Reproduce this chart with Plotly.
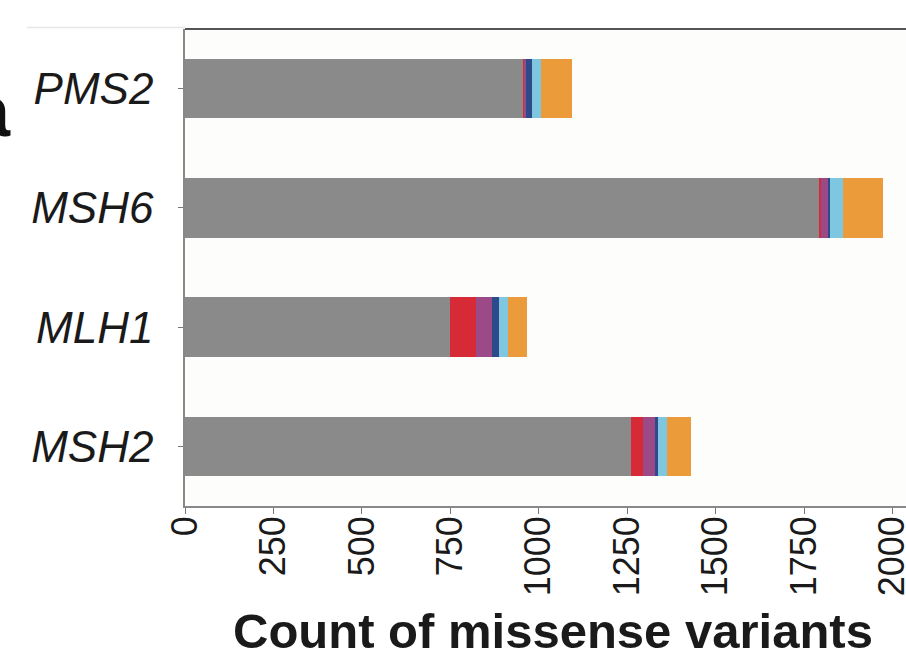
import plotly.graph_objects as go

genes = ["MSH2", "MLH1", "MSH6", "PMS2"]
series_names = ["Class A", "Class B", "Class C", "Class D", "Class E", "Class F"]
gray_vals = [1261, 749, 1791, 954]
red_vals = [34, 73, 8, 6]
purple_vals = [33, 47, 21, 5]
darkblue_vals = [10, 19, 4, 17]
lightblue_vals = [24, 24, 37, 23]
orange_vals = [68, 54, 113, 90]
tick_vals = [0, 250, 500, 750, 1000, 1250, 1500, 1750, 2000]
tick_text = [str(v) for v in tick_vals]

colors = ["#8a8a8a", "#d62a36", "#9b4a87", "#2d4a8a", "#7fc6e0", "#ec9b3b"]
all_vals = [gray_vals, red_vals, purple_vals, darkblue_vals, lightblue_vals, orange_vals]

fig = go.Figure()
for name, vals, col in zip(series_names, all_vals, colors):
    fig.add_trace(go.Bar(
        y=genes, x=vals, name=name, orientation="h",
        marker=dict(color=col, line=dict(width=0)),
        width=0.5, showlegend=False,
    ))

W, H = 906, 653
ml, mr, mt, mb = 185, 0, 29, 653 - 506
pw = W - ml - mr
ph = H - mt - mb


def px_x(page_x):
    return (page_x - ml) / pw


def px_y(page_y):
    return (mt + ph - page_y) / ph


FONT = "Liberation Sans, Arial, sans-serif"

fig.update_layout(
    width=W, height=H, autosize=False,
    margin=dict(l=ml, r=mr, t=mt, b=mb, pad=0),
    barmode="stack",
    paper_bgcolor="white",
    plot_bgcolor="#fdfdfb",
    font=dict(family=FONT, color="#1a1a1a"),
    xaxis=dict(
        range=[0, 2038], tickvals=tick_vals, ticktext=tick_text,
        tickangle=-90, ticks="outside", ticklen=6, tickcolor="#777777",
        tickfont=dict(size=36, family=FONT, color="#1a1a1a"),
        ticklabelstandoff=-12, ticklabeloverflow="allow",
        showgrid=False, zeroline=False, showline=True, linecolor="#888888", linewidth=1.5,
        fixedrange=True, automargin=False,
    ),
    yaxis=dict(
        range=[-0.5, 3.5], ticks="outside", ticklen=5, tickcolor="#777777",
        tickfont=dict(size=44, family=FONT, color="#1a1a1a"),
        tickvals=genes, ticktext=["<i>%s</i>" % g for g in genes],
        ticklabelstandoff=16, automargin=False,
        showgrid=False, zeroline=False, showline=True, linecolor="#888888", linewidth=1.5,
    ),
)

# top frame line
fig.add_shape(type="line", xref="paper", yref="paper", x0=0, x1=1, y0=1, y1=1,
              line=dict(color="#555555", width=2))
# faint line to the left at the top
fig.add_shape(type="line", xref="paper", yref="paper", x0=px_x(27), x1=0,
              y0=px_y(27.5), y1=px_y(27.5), line=dict(color="#e6e6e6", width=1.5))

# axis title
fig.add_annotation(text="<b>Count of missense variants</b>", xref="paper", yref="paper",
                   x=px_x(553), y=px_y(631), xanchor="center", yanchor="middle",
                   showarrow=False, font=dict(size=49, family=FONT, color="#1a1a1a"))
# panel letter (cropped at the left edge, as in the reference)
fig.add_annotation(text="<b>a</b>", xref="paper", yref="paper",
                   x=px_x(13), y=px_y(111), xanchor="right", yanchor="middle",
                   showarrow=False, font=dict(size=72, family=FONT, color="#111111"))

fig.write_html(
    "out.html",
    config={"responsive": False, "displayModeBar": False},
    post_script="document.body.style.margin='0';document.body.style.overflow='hidden';",
)
